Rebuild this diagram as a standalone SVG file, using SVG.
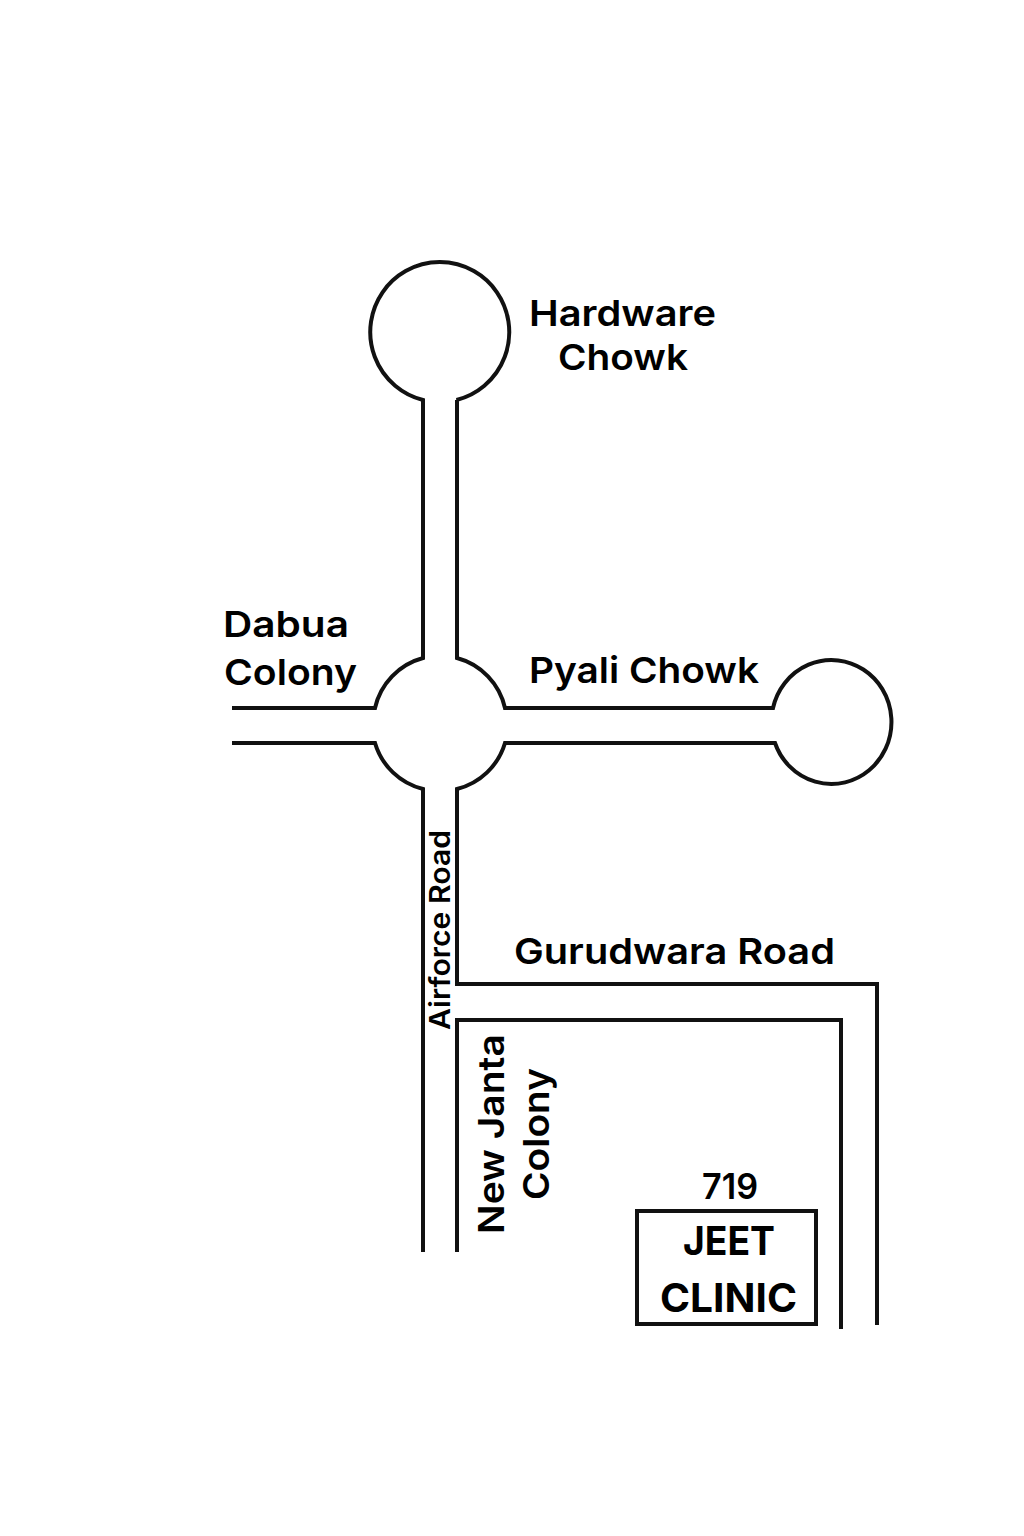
<svg xmlns="http://www.w3.org/2000/svg" width="1024" height="1536" viewBox="0 0 1024 1536">
<style>
.r{fill:none;stroke:#111;stroke-width:4}
text{font-family:"Inter","Noto Sans","Liberation Sans",sans-serif;font-weight:600;fill:#000;text-anchor:middle}
.l{font-size:36px}
.b{font-size:40px;font-weight:700}
</style>
<rect width="1024" height="1536" fill="#fff"/>
<g id="roads">
<path class="r" d="M423 1252V789A67 67 0 0 1 375 743H232"/>
<path class="r" d="M232 708H375A67 67 0 0 1 423 658V400A69.500 70 0 1 1 456.500 400H457V658A67 67 0 0 1 505 708H773A60 62 0 1 1 775 743H505A67 67 0 0 1 457 789V984H877V1325"/>
<path class="r" d="M457 1252V1020H841V1329"/>
</g>
<g id="hardware-chowk"><text class="l" x="622.500" y="326" textLength="187" lengthAdjust="spacingAndGlyphs">Hardware</text><text class="l" x="623" y="370" textLength="130" lengthAdjust="spacingAndGlyphs">Chowk</text></g>
<g id="dabua-colony"><text class="l" x="286" y="637" textLength="126" lengthAdjust="spacingAndGlyphs">Dabua</text><text class="l" x="290.500" y="685" textLength="133" lengthAdjust="spacingAndGlyphs">Colony</text></g>
<g id="pyali-chowk"><text class="l" x="644" y="683" textLength="230" lengthAdjust="spacingAndGlyphs">Pyali Chowk</text></g>
<g id="airforce-road"><text font-size="28" transform="translate(450 930) rotate(-90)" textLength="200" lengthAdjust="spacingAndGlyphs">Airforce Road</text></g>
<g id="gurudwara-road"><text class="l" x="674.500" y="964" textLength="321" lengthAdjust="spacingAndGlyphs">Gurudwara Road</text></g>
<g id="new-janta-colony"><text class="l" transform="translate(504 1134) rotate(-90)" textLength="200" lengthAdjust="spacingAndGlyphs">New Janta</text><text class="l" transform="translate(549 1134) rotate(-90)" textLength="132" lengthAdjust="spacingAndGlyphs">Colony</text></g>
<g id="jeet-clinic"><rect class="r" x="637" y="1211" width="179" height="113"/><text class="l" x="730" y="1199" textLength="56" lengthAdjust="spacingAndGlyphs">719</text><text class="b" x="729" y="1255" textLength="92" lengthAdjust="spacingAndGlyphs">JEET</text><text class="b" x="728.500" y="1312" textLength="137" lengthAdjust="spacingAndGlyphs">CLINIC</text></g>
</svg>
